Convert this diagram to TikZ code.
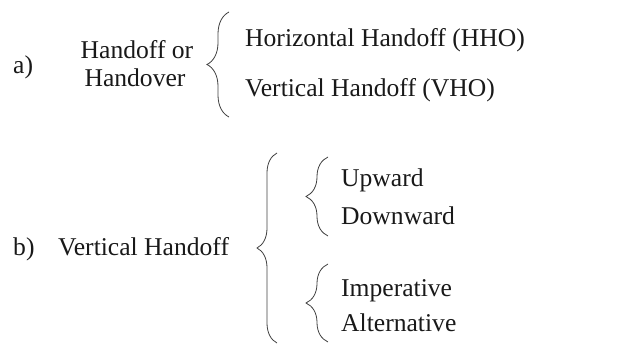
\documentclass[tikz,border=0pt]{standalone}
\usepackage{fontspec}
\setmainfont{Liberation Serif}
\usetikzlibrary{decorations.pathreplacing}
\begin{document}
\begin{tikzpicture}[x=1pt,y=-1pt,
  txt/.style={anchor=base west,inner sep=0pt,font=\fontsize{25.6}{28}\selectfont,text=black!90},
  ctxt/.style={anchor=base,inner sep=0pt,font=\fontsize{25.6}{28}\selectfont,text=black!90},
  curly/.style={draw=black!75,line width=0.8pt,decorate,decoration={brace,amplitude=#1}}]
\useasboundingbox (0,0) rectangle (617,345);
% part a
\node[txt] (la) at (13,73) {a)};
\node[ctxt] (ho1) at (137,59) {Handoff or};
\node[ctxt] (ho2) at (135,86) {Handover};
\node[txt] (hho) at (245,46) {Horizontal Handoff (HHO)};
\node[txt] (vho) at (245,96) {Vertical Handoff (VHO)};
\coordinate (abot) at (229,117);
\coordinate (atop) at (229,12);
\draw[curly=22pt] (abot) -- (atop);
% part b
\node[txt] (lb) at (13,255) {b)};
\node[txt] (vh) at (58,255) {Vertical Handoff};
\node[txt] (up) at (341,186) {Upward};
\node[txt] (down) at (341,224) {Downward};
\node[txt] (imp) at (341,296) {Imperative};
\node[txt] (alt) at (341,331) {Alternative};
\coordinate (bbot) at (277,343);
\coordinate (btop) at (277,153);
\draw[curly=20pt] (bbot) -- (btop);
\coordinate (c1bot) at (328,236);
\coordinate (c1top) at (328,157);
\draw[curly=22pt] (c1bot) -- (c1top);
\coordinate (c2bot) at (328,342);
\coordinate (c2top) at (328,264);
\draw[curly=22pt] (c2bot) -- (c2top);
\end{tikzpicture}
\end{document}
